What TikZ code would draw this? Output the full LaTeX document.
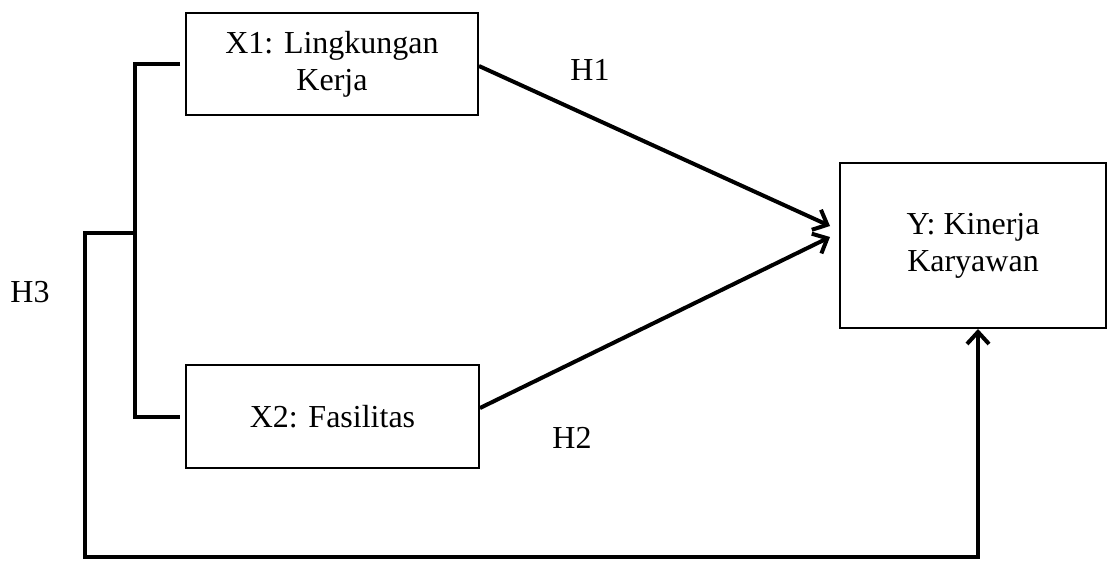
\documentclass[tikz,border=0pt]{standalone}
\usepackage{fontspec}
\setmainfont{Liberation Serif}
\usetikzlibrary{arrows.meta}

\tikzset{
	varbox/.style={draw, line width=1pt, align=center, inner sep=2pt, font=\fontsize{16}{18.5}\selectfont},
	hlabel/.style={font=\fontsize{16}{18.5}\selectfont},
	link/.style={line width=2pt},
	effect/.style={link, -{Straight Barb[length=6pt, width=11pt, line width=2pt]}}
}

\begin{document}
\begin{tikzpicture}[x=0.5pt, y=-0.5pt]
	\useasboundingbox (0,0) rectangle (1108,563);

	\node[varbox, minimum width=146pt, minimum height=51pt] (lingkungan) at (332,64) {X1: Lingkungan\\Kerja};
	\node[varbox, minimum width=146.5pt, minimum height=51.5pt] (fasilitas) at (332.5,416.5) {X2: Fasilitas};
	\node[varbox, minimum width=133pt, minimum height=82.5pt] (kinerja) at (973,245.5) {Y: Kinerja\\Karyawan};

	\coordinate (join) at (135,233);
	\coordinate (corner) at (85,557);

%	bracket joining X1 and X2
	\draw[link] ([xshift=-2.5pt]lingkungan.west) -| (join) |- ([xshift=-2.5pt]fasilitas.west);

	\draw[effect] ([yshift=-1pt]lingkungan.east) -- ([xshift=-4.5pt, yshift=9.75pt]kinerja.west);
	\draw[effect] ([yshift=4.25pt]fasilitas.east) -- ([xshift=-4.5pt, yshift=4.25pt]kinerja.west);
	\draw[effect] (join) -| (corner) -| ([xshift=2.5pt]kinerja.south);

	\node[hlabel] (h1) at (590,70) {H1};
	\node[hlabel] (h2) at (572,438) {H2};
	\node[hlabel] (h3) at (30,292) {H3};
\end{tikzpicture}
\end{document}
